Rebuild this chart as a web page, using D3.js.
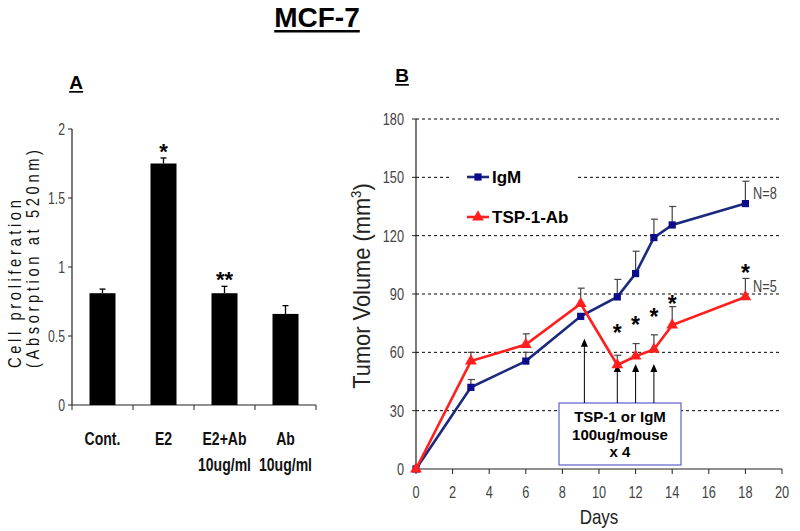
<!DOCTYPE html>
<html>
<head>
<meta charset="utf-8">
<script src="https://cdn.jsdelivr.net/npm/d3@7"></script>
<style>
  body { margin: 0; background: #fff; }
  svg { display: block; }
  text { font-family: "Liberation Sans", Arial, sans-serif; }
</style>
</head>
<body>
<svg width="800" height="531"></svg>
<script>
// panel A data
const categories = ["Cont.", "E2", "E2+Ab", "Ab"];
const catSub = ["", "", "10ug/ml", "10ug/ml"];
const absorb = [0.81, 1.75, 0.81, 0.66];
const absorbErr = [0.03, 0.04, 0.05, 0.06];
const absorbStars = ["", "*", "**", ""];
const yTicksA = [0, 0.5, 1, 1.5, 2];

// panel B data
const days = [0, 3, 6, 9, 11, 12, 13, 14, 18];
const igm = [0, 42, 55.5, 78.5, 88.5, 100.5, 119, 125.5, 136.5];
const igmErr = [0, 4, 4.5, 0, 9, 11.5, 9.5, 9.5, 11.5];
const tsp = [0, 55.5, 64, 85, 53.5, 58, 61.5, 74, 88.5];
const tspErr = [0, 4.5, 5.5, 8, 5, 6.5, 7.5, 9.5, 9.5];
const starDays = [11, 12, 13, 14, 18];
const starVals = [72, 76, 80, 87, 103];
const arrowDays = [9.2, 11, 12, 13];
const arrowTips = [67, 54, 54, 54];
const xTicksB = d3.range(0, 21, 2);
const yTicksB = d3.range(0, 181, 30);

const svg = d3.select("svg");
const navy = "#1b2a7d";
const navyMark = "#0b0b8c";
const red = "#ff1f1f";

// condensed text: no narrow font installed, so squeeze horizontally
function narrow(g, x, y, txt, size, anchor, opts = {}) {
  return g.append("text")
    .attr("transform", `translate(${x},${y}) scale(${opts.sx || 0.8},1)`)
    .attr("text-anchor", anchor)
    .attr("font-size", size)
    .attr("font-weight", opts.bold ? "bold" : null)
    .attr("fill", opts.fill || "#444")
    .text(txt);
}

function underlined(x, y, txt, size) {
  const t = svg.append("text")
    .attr("x", x).attr("y", y)
    .attr("text-anchor", "middle")
    .attr("font-weight", "bold")
    .attr("font-size", size)
    .text(txt);
  const bb = t.node().getBBox();
  svg.append("line")
    .attr("x1", bb.x).attr("x2", bb.x + bb.width)
    .attr("y1", y + size * 0.15).attr("y2", y + size * 0.15)
    .attr("stroke", "#000").attr("stroke-width", size * 0.09);
}
underlined(317, 27, "MCF-7", 28);
underlined(76, 89, "A", 19);
underlined(402, 82, "B", 19);

// ---------- panel A ----------
const xA = d3.scaleBand().domain(categories).range([72, 316]);
const yA = d3.scaleLinear().domain([0, 2]).range([405, 129]);
const barW = 26;

const gA = svg.append("g");
gA.append("line").attr("x1", 72).attr("x2", 72).attr("y1", yA(2)).attr("y2", yA(0))
  .attr("stroke", "#222").attr("stroke-width", 1.2);
gA.append("line").attr("x1", 72).attr("x2", 316).attr("y1", yA(0)).attr("y2", yA(0))
  .attr("stroke", "#222").attr("stroke-width", 1.2);

gA.selectAll(".ytA").data(yTicksA).enter().append("line")
  .attr("x1", 68).attr("x2", 72)
  .attr("y1", (d) => yA(d)).attr("y2", (d) => yA(d))
  .attr("stroke", "#222");
yTicksA.forEach((d) => narrow(gA, 65, yA(d) + 6, d, 17, "end", { sx: 0.72 }));

const edges = categories.map((c) => xA(c)).concat([316]);
gA.selectAll(".xtA").data(edges).enter().append("line")
  .attr("x1", (d) => d).attr("x2", (d) => d)
  .attr("y1", yA(0)).attr("y2", yA(0) + 5)
  .attr("stroke", "#222");

gA.selectAll(".bar").data(categories).enter().append("rect")
  .attr("x", (d) => xA(d) + xA.bandwidth() / 2 - barW / 2)
  .attr("y", (d, i) => yA(absorb[i]))
  .attr("width", barW)
  .attr("height", (d, i) => yA(0) - yA(absorb[i]))
  .attr("fill", "#000");

categories.forEach((c, i) => {
  const cx = xA(c) + xA.bandwidth() / 2;
  const top = yA(absorb[i] + absorbErr[i]);
  gA.append("line").attr("x1", cx).attr("x2", cx).attr("y1", yA(absorb[i])).attr("y2", top)
    .attr("stroke", "#000").attr("stroke-width", 1.3);
  gA.append("line").attr("x1", cx - 3).attr("x2", cx + 3).attr("y1", top).attr("y2", top)
    .attr("stroke", "#000").attr("stroke-width", 1.3);
  if (absorbStars[i]) {
    gA.append("text")
      .attr("x", cx).attr("y", top + 1)
      .attr("text-anchor", "middle").attr("font-size", 22).attr("font-weight", "bold")
      .text(absorbStars[i]);
  }
  narrow(gA, cx, 445, c, 18, "middle", { bold: true, fill: "#111", sx: 0.78 });
  if (catSub[i]) narrow(gA, cx, 471, catSub[i], 18, "middle", { bold: true, fill: "#111", sx: 0.78 });
});

const yTitleA = gA.append("g");
["Cell proliferation", "(Absorption at 520nm)"].forEach((t, i) => {
  yTitleA.append("text")
    .attr("transform", `translate(${21 + i * 18},368) rotate(-90) scale(0.82,1)`)
    .attr("font-size", 18)
    .attr("letter-spacing", 4.4)
    .attr("fill", "#111")
    .text(t);
});

// ---------- panel B ----------
const xB = d3.scaleLinear().domain([0, 20]).range([416, 782]);
const yB = d3.scaleLinear().domain([0, 180]).range([469, 119]);
const gB = svg.append("g");

gB.selectAll(".grid").data(yTicksB.filter((d) => d > 0)).enter().append("line")
  .attr("x1", xB(0)).attr("x2", xB(20))
  .attr("y1", (d) => yB(d)).attr("y2", (d) => yB(d))
  .attr("stroke", "#000").attr("stroke-width", 1)
  .attr("stroke-dasharray", "3,3");

gB.append("line").attr("x1", xB(0)).attr("x2", xB(0)).attr("y1", yB(180)).attr("y2", yB(0))
  .attr("stroke", "#222").attr("stroke-width", 1.2);
gB.append("line").attr("x1", xB(0)).attr("x2", xB(20)).attr("y1", yB(0)).attr("y2", yB(0))
  .attr("stroke", "#222").attr("stroke-width", 1.2);

gB.selectAll(".ytB").data(yTicksB).enter().append("line")
  .attr("x1", xB(0) - 4).attr("x2", xB(0))
  .attr("y1", (d) => yB(d)).attr("y2", (d) => yB(d))
  .attr("stroke", "#222");
yTicksB.forEach((d) => narrow(gB, 404, yB(d) + 6, d, 17, "end", { sx: 0.75 }));

gB.selectAll(".xtB").data(xTicksB).enter().append("line")
  .attr("x1", (d) => xB(d)).attr("x2", (d) => xB(d))
  .attr("y1", yB(0)).attr("y2", yB(0) + 5)
  .attr("stroke", "#222");
xTicksB.forEach((d) => narrow(gB, xB(d), 498, d, 17, "middle", { sx: 0.75 }));

narrow(gB, (xB(0) + xB(20)) / 2, 524, "Days", 20, "middle", { fill: "#222", sx: 0.85 });

const yTitleB = gB.append("text")
  .attr("transform", `translate(370,${(yB(0) + yB(180)) / 2 - 8}) rotate(-90) scale(0.95,1)`)
  .attr("text-anchor", "middle").attr("font-size", 23).attr("fill", "#222");
yTitleB.append("tspan").text("Tumor Volume (mm");
yTitleB.append("tspan").attr("font-size", 14).attr("dy", -9).text("3");
yTitleB.append("tspan").attr("dy", 9).text(")");

// annotation box
const box = { x: 559, y: 403, w: 122, h: 62 };
gB.append("rect").attr("x", box.x).attr("y", box.y).attr("width", box.w).attr("height", box.h)
  .attr("fill", "#fff").attr("stroke", "#6a6ad0").attr("stroke-width", 1.3);
["TSP-1 or IgM", "100ug/mouse", "x 4"].forEach((t, i) => {
  gB.append("text")
    .attr("x", box.x + box.w / 2).attr("y", 422 + i * 17.5)
    .attr("text-anchor", "middle").attr("font-size", 15).attr("font-weight", "bold")
    .text(t);
});

arrowDays.forEach((d, i) => {
  const x = xB(d);
  const tip = yB(arrowTips[i]);
  gB.append("line").attr("x1", x).attr("x2", x).attr("y1", box.y).attr("y2", tip + 6)
    .attr("stroke", "#000").attr("stroke-width", 1);
  gB.append("path")
    .attr("d", `M${x},${tip} L${x - 3.5},${tip + 8} L${x + 3.5},${tip + 8} Z`)
    .attr("fill", "#000");
});

// series
function series(vals, errs, color, markColor, marker) {
  const pts = days.map((d, i) => [xB(d), yB(vals[i])]);
  days.forEach((d, i) => {
    if (!errs[i]) return;
    const x = xB(d);
    const top = yB(vals[i] + errs[i]);
    gB.append("line").attr("x1", x).attr("x2", x).attr("y1", yB(vals[i])).attr("y2", top)
      .attr("stroke", "#444").attr("stroke-width", 1.2);
    gB.append("line").attr("x1", x - 3).attr("x2", x + 4).attr("y1", top).attr("y2", top)
      .attr("stroke", "#444").attr("stroke-width", 1.2);
  });
  gB.append("path").datum(pts)
    .attr("d", d3.line())
    .attr("fill", "none").attr("stroke", color).attr("stroke-width", 2.6);
  gB.selectAll(null).data(pts).enter().append("path")
    .attr("transform", (p) => `translate(${p[0]},${p[1]})`)
    .attr("d", marker)
    .attr("fill", markColor);
}
const sq = d3.symbol(d3.symbolSquare, 52)();
const tri = d3.symbol(d3.symbolTriangle, 60)();
series(igm, igmErr, navy, navyMark, sq);
series(tsp, tspErr, red, red, tri);

// stars
starDays.forEach((d, i) => {
  gB.append("text")
    .attr("x", xB(d)).attr("y", yB(starVals[i]) + 12)
    .attr("text-anchor", "middle").attr("font-size", 23).attr("font-weight", "bold")
    .text("*");
});

narrow(gB, 753, 199, "N=8", 16, "start", { sx: 0.8 });
narrow(gB, 753, 292, "N=5", 16, "start", { sx: 0.8 });

// legend
gB.append("rect").attr("x", 452).attr("y", 160).attr("width", 125).attr("height", 68).attr("fill", "#fff");
const legend = [["IgM", navy, navyMark, sq, 177], ["TSP-1-Ab", red, red, tri, 217]];
legend.forEach(([name, color, markColor, marker, y]) => {
  gB.append("line").attr("x1", 467).attr("x2", 489).attr("y1", y).attr("y2", y)
    .attr("stroke", color).attr("stroke-width", 2.6);
  gB.append("path").attr("transform", `translate(478,${y})`).attr("d", marker)
    .attr("fill", markColor);
  gB.append("text").attr("x", 492).attr("y", y + 6)
    .attr("font-size", 17).attr("font-weight", "bold").text(name);
});
</script>
</body>
</html>
